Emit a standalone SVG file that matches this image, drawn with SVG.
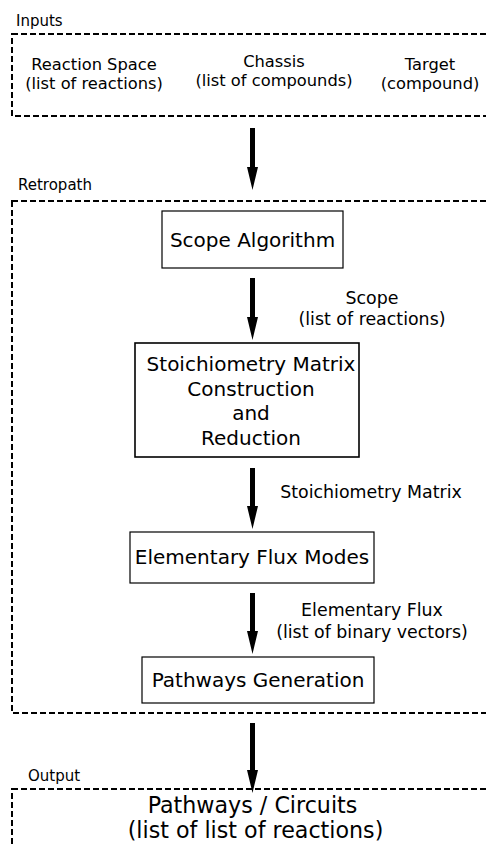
<svg xmlns="http://www.w3.org/2000/svg" width="486" height="846" viewBox="0 0 486 846">
<style>
text{font-family:"DejaVu Sans","Liberation Sans",sans-serif;fill:#000}
.grp{fill:none;stroke:#000;stroke-width:2;stroke-dasharray:6,3}
.box{fill:#fff;stroke:#000;stroke-width:1.2}
.lbl{font-size:15px}
.in{font-size:16.3px;text-anchor:middle}
.node{font-size:20px;text-anchor:middle}
.edge{font-size:17.4px;text-anchor:middle}
.out{font-size:22.2px;text-anchor:middle}
.arr{fill:#000;stroke:none}
</style>
<rect width="486" height="846" fill="#fff"/>
<g id="inputs">
<text class="lbl" x="16" y="26">Inputs</text>
<rect class="grp" x="12" y="34" width="490" height="82"/>
<text class="in" x="94" y="70">Reaction Space</text>
<text class="in" x="94" y="89">(list of reactions)</text>
<text class="in" x="274" y="67">Chassis</text>
<text class="in" x="274" y="86">(list of compounds)</text>
<text class="in" x="430" y="70">Target</text>
<text class="in" x="430" y="89">(compound)</text>
</g>
<g id="retropath">
<text class="lbl" x="18" y="190">Retropath</text>
<rect class="grp" x="12" y="201" width="490" height="512"/>
</g>
<g id="scope">
<rect class="box" x="162" y="211" width="181" height="57"/>
<text class="node" x="252.5" y="247">Scope Algorithm</text>
</g>
<g id="stoich">
<rect class="box" x="135" y="343" width="224" height="114" style="stroke-width:1.6"/>
<text class="node" x="251" y="371">Stoichiometry Matrix</text>
<text class="node" x="251" y="396">Construction</text>
<text class="node" x="251" y="420">and</text>
<text class="node" x="251" y="445">Reduction</text>
</g>
<g id="efm">
<rect class="box" x="130" y="532" width="244" height="51"/>
<text class="node" x="252" y="564">Elementary Flux Modes</text>
</g>
<g id="pathgen">
<rect class="box" x="142" y="657" width="232" height="46"/>
<text class="node" x="258" y="687">Pathways Generation</text>
</g>
<g id="output">
<text class="lbl" x="28" y="781">Output</text>
<rect class="grp" x="12" y="789" width="490" height="100"/>
<text class="out" x="252.5" y="813">Pathways / Circuits</text>
<text class="out" x="255.5" y="838">(list of list of reactions)</text>
</g>
<g id="connectors">
<path class="arr" d="M250,128 H255 V167 H258 L252.5,190 L247,167 H250 Z"/>
<path class="arr" d="M250,278 H255 V317 H258 L252.5,340 L247,317 H250 Z"/>
<path class="arr" d="M250,468 H255 V506 H258 L252.5,529 L247,506 H250 Z"/>
<path class="arr" d="M250,593 H255 V631 H258 L252.5,654 L247,631 H250 Z"/>
<path class="arr" d="M250,723 H255 V770 H258 L252.5,793 L247,770 H250 Z"/>
<text class="edge" x="372" y="304">Scope</text>
<text class="edge" x="372" y="325">(list of reactions)</text>
<text class="edge" x="371" y="498">Stoichiometry Matrix</text>
<text class="edge" x="372" y="616">Elementary Flux</text>
<text class="edge" x="372" y="638">(list of binary vectors)</text>
</g>
</svg>
